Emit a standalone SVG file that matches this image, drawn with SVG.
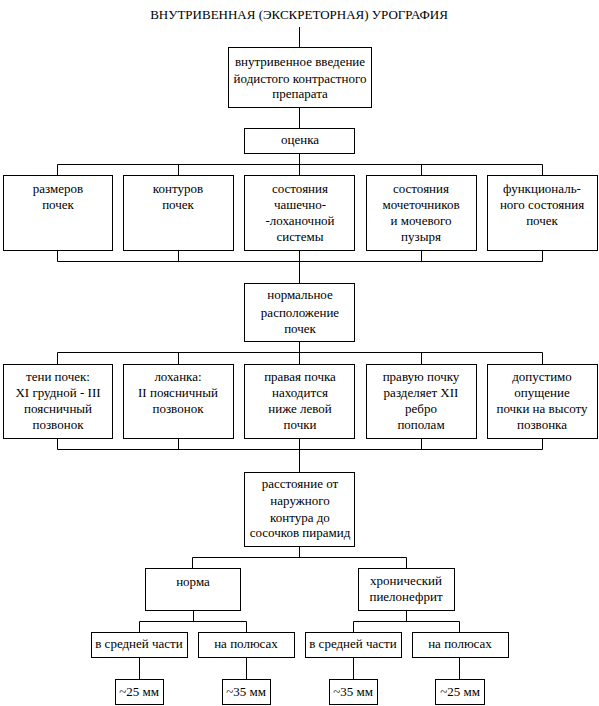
<svg xmlns="http://www.w3.org/2000/svg" width="599" height="706" viewBox="0 0 599 706">
<style>
rect{fill:#fff;stroke:#000;stroke-width:1}
.c line,.c path{stroke:#000;stroke-width:1;fill:none}
text{font-family:"Liberation Serif","Times New Roman",serif;font-size:13px;fill:#000;text-anchor:middle}
</style>
<rect x="0" y="0" width="599" height="706" style="stroke:none"/>
<text x="299" y="19">ВНУТРИВЕННАЯ (ЭКСКРЕТОРНАЯ) УРОГРАФИЯ</text>
<g class="c" id="connectors">
<line x1="299.5" y1="27" x2="299.5" y2="47"/>
<line x1="299.5" y1="107" x2="299.5" y2="128"/>
<line x1="299.5" y1="153" x2="299.5" y2="175"/>
<path d="M57.5 175.5V164.5H542.5V175.5M178.5 164.5V175.5M421.5 164.5V175.5"/>
<path d="M57.5 250.5V261.5H542.5V250.5M178.5 250.5V261.5M421.5 250.5V261.5M299.5 250.5V283"/>
<line x1="299.5" y1="341" x2="299.5" y2="364"/>
<path d="M57.5 364.5V352.5H542.5V364.5M178.5 352.5V364.5M421.5 352.5V364.5"/>
<path d="M57.5 438.5V449.5H542.5V438.5M178.5 438.5V449.5M421.5 438.5V449.5M299.5 438.5V472"/>
<path d="M299.5 546V557.5M192.5 568V557.5H406.5V568"/>
<path d="M193.5 610V621.5M139.5 632V621.5H246.5V632"/>
<path d="M406.5 610V621.5M353.5 632V621.5H459.5V632"/>
<path d="M139.5 657V679M246.5 657V679M353.5 657V679M459.5 657V679"/>
</g>
<g id="n1"><rect x="228.5" y="47.5" width="143" height="60"/><text x="300" y="66">внутривенное введение</text><text x="300" y="83">йодистого контрастного</text><text x="300" y="98">препарата</text></g>
<g id="n2"><rect x="244.5" y="128.5" width="110" height="25"/><text x="300" y="144">оценка</text></g>
<g id="r1a"><rect x="3.5" y="175.5" width="109" height="75"/><text x="58" y="193">размеров</text><text x="58" y="209">почек</text></g>
<g id="r1b"><rect x="123.5" y="175.5" width="110" height="75"/><text x="178" y="193">контуров</text><text x="178" y="209">почек</text></g>
<g id="r1c"><rect x="244.5" y="175.5" width="110" height="75"/><text x="300" y="193">состояния</text><text x="300" y="209">чашечно-</text><text x="300" y="225">-лоханочной</text><text x="300" y="241">системы</text></g>
<g id="r1d"><rect x="366.5" y="175.5" width="110" height="75"/><text x="421" y="193">состояния</text><text x="421" y="209">мочеточников</text><text x="421" y="225">и мочевого</text><text x="421" y="241">пузыря</text></g>
<g id="r1e"><rect x="487.5" y="175.5" width="110" height="75"/><text x="542" y="193">функциональ-</text><text x="542" y="209">ного состояния</text><text x="542" y="225">почек</text></g>
<g id="n3"><rect x="244.5" y="283.5" width="110" height="58"/><text x="300" y="299">нормальное</text><text x="300" y="317">расположение</text><text x="300" y="333">почек</text></g>
<g id="r2a"><rect x="3.5" y="364.5" width="109" height="74"/><text x="58" y="381">тени почек:</text><text x="58" y="397">XI грудной - III</text><text x="58" y="413">поясничный</text><text x="58" y="429">позвонок</text></g>
<g id="r2b"><rect x="123.5" y="364.5" width="110" height="74"/><text x="178" y="381">лоханка:</text><text x="178" y="397">II поясничный</text><text x="178" y="413">позвонок</text></g>
<g id="r2c"><rect x="244.5" y="364.5" width="110" height="74"/><text x="300" y="381">правая почка</text><text x="300" y="397">находится</text><text x="300" y="413">ниже левой</text><text x="300" y="429">почки</text></g>
<g id="r2d"><rect x="366.5" y="364.5" width="110" height="74"/><text x="421" y="381">правую почку</text><text x="421" y="397">разделяет XII</text><text x="421" y="413">ребро</text><text x="421" y="429">пополам</text></g>
<g id="r2e"><rect x="487.5" y="364.5" width="110" height="74"/><text x="542" y="381">допустимо</text><text x="542" y="397">опущение</text><text x="542" y="413">почки на высоту</text><text x="542" y="429">позвонка</text></g>
<g id="n4"><rect x="244.5" y="472.5" width="110" height="74"/><text x="300" y="488">расстояние от</text><text x="300" y="505">наружного</text><text x="300" y="522">контура до</text><text x="300" y="537">сосочков пирамид</text></g>
<g id="n5"><rect x="145.5" y="568.5" width="95" height="42"/><text x="193" y="586">норма</text></g>
<g id="n6"><rect x="358.5" y="568.5" width="96" height="42"/><text x="406" y="585">хронический</text><text x="406" y="601">пиелонефрит</text></g>
<g id="b1"><rect x="91.5" y="632.5" width="96" height="25"/><text x="139" y="648">в средней части</text></g>
<g id="b2"><rect x="198.5" y="632.5" width="96" height="25"/><text x="246" y="648">на полюсах</text></g>
<g id="b3"><rect x="305.5" y="632.5" width="96" height="25"/><text x="353" y="648">в средней части</text></g>
<g id="b4"><rect x="412.5" y="632.5" width="96" height="25"/><text x="460" y="648">на полюсах</text></g>
<g id="m1"><rect x="115.5" y="679.5" width="48" height="25"/><text x="139" y="696">~25 мм</text></g>
<g id="m2"><rect x="222.5" y="679.5" width="48" height="25"/><text x="246" y="696">~35 мм</text></g>
<g id="m3"><rect x="329.5" y="679.5" width="48" height="25"/><text x="353" y="696">~35 мм</text></g>
<g id="m4"><rect x="435.5" y="679.5" width="49" height="25"/><text x="460" y="696">~25 мм</text></g>
</svg>
